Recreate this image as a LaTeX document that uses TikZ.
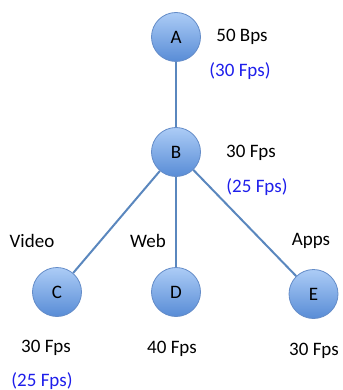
\documentclass[tikz,border=0pt]{standalone}
\usepackage{fontspec}
\setmainfont{Carlito}
\usetikzlibrary{backgrounds}
\definecolor{ctop}{RGB}{172,204,246}
\definecolor{cbot}{RGB}{88,140,214}
\definecolor{cdraw}{RGB}{100,140,200}
\definecolor{edgec}{RGB}{90,135,190}
\definecolor{bluetxt}{RGB}{30,30,235}
\begin{document}
\begin{tikzpicture}[x=1pt,y=-1pt,
  vert/.style={circle,minimum size=49pt,inner sep=0pt,top color=ctop,bottom color=cbot,draw=cdraw,line width=0.8pt,font=\fontsize{19}{22}\selectfont},
  lbl/.style={inner sep=0pt,font=\fontsize{19}{22}\selectfont},
  blbl/.style={lbl,text=bluetxt},
  edge/.style={draw=edgec,line width=2pt}]
\useasboundingbox (0,0) rectangle (342,390);
\node[vert] (A) at (176,37) {A};
\node[vert] (B) at (176,152) {B};
\node[vert] (C) at (57,292) {C};
\node[vert] (D) at (176,292) {D};
\node[vert] (E) at (313.5,294) {E};
\begin{scope}[on background layer]
\draw[edge] (A) -- (B);
\draw[edge] (B) -- (C);
\draw[edge] (B) -- (D);
\draw[edge] (B) -- (E);
\end{scope}
\node[lbl] (la) at (242,37) {50 Bps};
\node[blbl] (la2) at (240,71) {(30 Fps)};
\node[lbl] (lb) at (251,153) {30 Fps};
\node[blbl] (lb2) at (257,187) {(25 Fps)};
\node[lbl] (vid) at (32,241) {Video};
\node[lbl] (web) at (148,241) {Web};
\node[lbl] (apps) at (311,241) {Apps};
\node[lbl] (lc) at (46,348) {30 Fps};
\node[blbl] (lc2) at (42,381) {(25 Fps)};
\node[lbl] (ld) at (172,349) {40 Fps};
\node[lbl] (le) at (314,351) {30 Fps};
\end{tikzpicture}
\end{document}
